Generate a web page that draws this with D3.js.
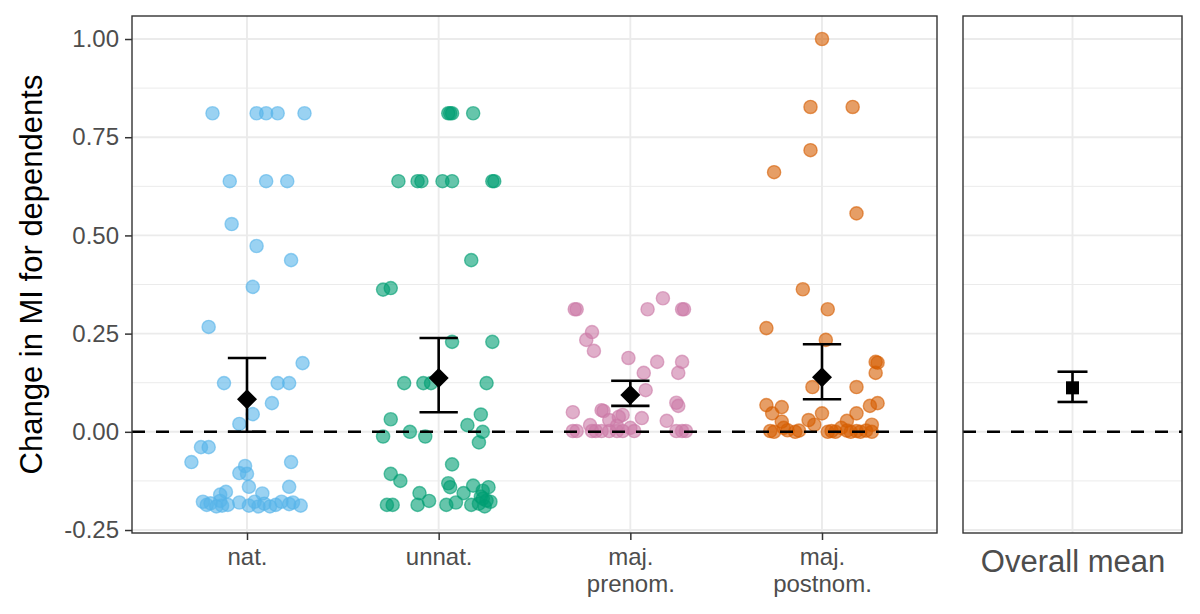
<!DOCTYPE html>
<html>
<head>
<meta charset="utf-8">
<script src="https://cdn.jsdelivr.net/npm/d3@7"></script>
<style>
  body { margin: 0; background: #fff; }
  text { font-family: "Liberation Sans", Arial, sans-serif; }
</style>
</head>
<body>
<div id="plot"></div>
<script>
// groups and colours
var categories = ["nat.", "unnat.", "maj.\nprenom.", "maj.\npostnom."];
var colors = ["#56B4E9", "#009E73", "#CC79A7", "#D55E00"];

// points: [horizontal jitter in category units, value]
var natPoints = [
    [-0.18, 0.811], [0.05, 0.811], [0.10, 0.811], [0.16, 0.811], [0.30, 0.811],
    [-0.09, 0.638], [0.10, 0.638], [0.21, 0.638],
    [-0.08, 0.529], [0.05, 0.473], [0.23, 0.437], [0.03, 0.369], [-0.20, 0.267],
    [0.29, 0.175], [-0.12, 0.124], [0.16, 0.124], [0.22, 0.124], [0.13, 0.073],
    [0.03, 0.045], [-0.04, 0.020], [-0.24, -0.039], [-0.20, -0.039],
    [-0.29, -0.077], [0.23, -0.077], [-0.01, -0.087], [-0.04, -0.105], [0.00, -0.107],
    [0.01, -0.140], [0.22, -0.140], [-0.11, -0.153], [0.08, -0.157], [-0.14, -0.160],
    [-0.23, -0.178], [-0.21, -0.186], [-0.19, -0.182], [-0.16, -0.190], [-0.14, -0.176],
    [-0.10, -0.186], [-0.04, -0.180], [0.01, -0.188], [0.04, -0.178], [0.06, -0.190],
    [0.09, -0.183], [0.15, -0.186], [0.18, -0.178], [0.22, -0.184], [0.24, -0.180],
    [0.28, -0.188], [-0.13, -0.188], [0.12, -0.190]
];
var unnatPoints = [
    [0.05, 0.811], [0.06, 0.811], [0.07, 0.811], [0.18, 0.811],
    [-0.21, 0.638], [-0.11, 0.638], [-0.09, 0.638], [0.02, 0.638], [0.07, 0.638],
    [0.28, 0.638], [0.29, 0.638],
    [0.17, 0.437], [-0.29, 0.362], [-0.25, 0.366],
    [0.07, 0.229], [0.28, 0.229],
    [-0.18, 0.124], [-0.08, 0.124], [-0.04, 0.124], [0.25, 0.124],
    [-0.25, 0.032], [0.22, 0.044], [0.15, 0.017], [-0.15, 0.000], [0.23, 0.000],
    [-0.29, -0.012], [-0.07, -0.012], [0.21, -0.027], [0.07, -0.083],
    [-0.25, -0.107], [-0.20, -0.125], [0.05, -0.131], [0.06, -0.141],
    [0.18, -0.137], [0.26, -0.141], [-0.10, -0.156], [0.13, -0.156],
    [-0.05, -0.176], [-0.11, -0.186], [-0.27, -0.186], [-0.24, -0.186],
    [0.04, -0.186], [0.09, -0.180], [0.17, -0.186],
    [0.21, -0.183], [0.22, -0.165], [0.23, -0.150], [0.25, -0.175],
    [0.27, -0.178], [0.24, -0.190], [0.23, -0.170]
];
var prenomPoints = [
    [-0.29, 0.312], [-0.28, 0.312], [0.09, 0.312], [0.17, 0.340], [0.28, 0.312], [0.27, 0.312],
    [-0.20, 0.254], [-0.23, 0.234], [-0.19, 0.206],
    [-0.01, 0.188], [0.14, 0.178], [0.27, 0.178],
    [0.07, 0.150], [0.25, 0.150], [0.08, 0.106],
    [0.24, 0.074], [0.25, 0.066],
    [-0.30, 0.050], [-0.15, 0.055], [-0.14, 0.053],
    [-0.04, 0.043], [0.06, 0.035], [0.19, 0.028], [-0.11, 0.030], [-0.06, 0.038],
    [-0.21, 0.017], [-0.07, 0.015], [0.00, 0.010],
    [-0.30, 0.002], [-0.28, 0.002], [-0.20, 0.002], [-0.18, 0.002], [-0.15, 0.002],
    [-0.11, 0.002], [-0.07, 0.002], [-0.04, 0.002], [0.02, 0.002], [0.24, 0.002],
    [0.27, 0.002], [0.29, 0.002]
];
var postnomPoints = [
    [0.00, 1.000], [-0.06, 0.827], [0.16, 0.827], [-0.06, 0.717], [-0.25, 0.661],
    [0.18, 0.556], [-0.10, 0.363], [0.03, 0.312], [-0.29, 0.264], [0.02, 0.234],
    [0.28, 0.178], [0.29, 0.176], [0.28, 0.150],
    [-0.05, 0.114], [0.18, 0.114],
    [-0.29, 0.068], [-0.21, 0.063], [0.29, 0.073], [0.25, 0.066],
    [-0.26, 0.047], [0.00, 0.047], [0.18, 0.047],
    [-0.21, 0.026], [-0.07, 0.030], [0.13, 0.028], [0.26, 0.018], [-0.04, 0.018],
    [-0.27, 0.002], [-0.25, 0.000], [-0.18, 0.004], [-0.14, 0.000], [-0.12, 0.003],
    [0.03, 0.000], [0.05, 0.002], [0.07, 0.000], [0.13, 0.003], [0.15, 0.000],
    [0.18, 0.002], [0.20, 0.000], [0.23, 0.003], [0.26, 0.000], [0.10, 0.010],
    [-0.20, 0.010]
];
var groupPoints = [natPoints, unnatPoints, prenomPoints, postnomPoints];

// group means with error bars
var means = [0.083, 0.137, 0.094, 0.139];
var ciLow = [0.000, 0.050, 0.066, 0.083];
var ciHigh = [0.188, 0.239, 0.130, 0.223];

// overall panel
var overallLabel = ["Overall mean"];
var overallMean = [0.112];
var overallLow = [0.076];
var overallHigh = [0.153];

var yTicks = [-0.25, 0, 0.25, 0.5, 0.75, 1];
var yMinor = [-0.125, 0.125, 0.375, 0.625, 0.875];
var yTitle = "Change in MI for dependents";

function drawChart(){
    var width = 1200, height = 614;
    var top = 16, bottom = 533;
    var left1 = 132, right1 = 937;
    var left2 = 963, right2 = 1182;

    var svg = d3.select("#plot").append("svg")
        .attr("width", width)
        .attr("height", height);

    var yScale = d3.scaleLinear()
        .domain([-0.2576, 1.0586])
        .range([bottom, top]);

    var xScale = d3.scalePoint()
        .domain(categories)
        .range([left1, right1])
        .padding(0.6);

    var xScale2 = d3.scalePoint()
        .domain(overallLabel)
        .range([left2, right2])
        .padding(0.6);

    // grid lines for both panels
    [[left1, right1, xScale, categories], [left2, right2, xScale2, overallLabel]].forEach(function(p){
        var g = svg.append("g");
        g.selectAll(".minor").data(yMinor).enter().append("line")
            .attr("x1", p[0]).attr("x2", p[1])
            .attr("y1", function(d){ return yScale(d); })
            .attr("y2", function(d){ return yScale(d); })
            .attr("stroke", "#ebebeb").attr("stroke-width", 1);
        g.selectAll(".major").data(yTicks).enter().append("line")
            .attr("x1", p[0]).attr("x2", p[1])
            .attr("y1", function(d){ return yScale(d); })
            .attr("y2", function(d){ return yScale(d); })
            .attr("stroke", "#ebebeb").attr("stroke-width", 1.9);
        g.selectAll(".vert").data(p[3]).enter().append("line")
            .attr("x1", function(d){ return p[2](d); })
            .attr("x2", function(d){ return p[2](d); })
            .attr("y1", top).attr("y2", bottom)
            .attr("stroke", "#ebebeb").attr("stroke-width", 1.9);
    });

    // jittered points
    var step = xScale.step();
    groupPoints.forEach(function(pts, i){
        svg.append("g").selectAll("circle")
            .data(pts).enter().append("circle")
            .attr("cx", function(d){ return xScale(categories[i]) + d[0] * step; })
            .attr("cy", function(d){ return yScale(d[1]); })
            .attr("r", 6.6)
            .style("fill", colors[i])
            .style("fill-opacity", 0.6)
            .style("stroke", colors[i])
            .style("stroke-opacity", 0.6)
            .style("stroke-width", 1.4);
    });

    // zero reference lines
    [[left1, right1], [left2, right2]].forEach(function(p){
        svg.append("line")
            .attr("x1", p[0]).attr("x2", p[1])
            .attr("y1", yScale(0)).attr("y2", yScale(0))
            .attr("stroke", "#000")
            .attr("stroke-width", 2.6)
            .attr("stroke-dasharray", "13,11");
    });

    // error bars + mean diamonds
    function errorBars(scale, labels, lo, hi, capHalf){
        var g = svg.append("g");
        g.selectAll(".stem").data(labels).enter().append("line")
            .attr("x1", function(d){ return scale(d); })
            .attr("x2", function(d){ return scale(d); })
            .attr("y1", function(d, i){ return yScale(lo[i]); })
            .attr("y2", function(d, i){ return yScale(hi[i]); })
            .attr("stroke", "#000").attr("stroke-width", 2.6);
        [lo, hi].forEach(function(arr){
            g.selectAll(null).data(labels).enter().append("line")
                .attr("x1", function(d){ return scale(d) - capHalf; })
                .attr("x2", function(d){ return scale(d) + capHalf; })
                .attr("y1", function(d, i){ return yScale(arr[i]); })
                .attr("y2", function(d, i){ return yScale(arr[i]); })
                .attr("stroke", "#000").attr("stroke-width", 2.6);
        });
    }
    errorBars(xScale, categories, ciLow, ciHigh, 0.1 * step);
    errorBars(xScale2, overallLabel, overallLow, overallHigh, 15);

    svg.append("g").selectAll("path")
        .data(categories).enter().append("path")
        .attr("d", d3.symbol().type(d3.symbolSquare).size(200))
        .attr("transform", function(d, i){
            return "translate(" + xScale(d) + "," + yScale(means[i]) + ") rotate(45)";
        })
        .style("fill", "#000");

    svg.append("g").selectAll("path")
        .data(overallLabel).enter().append("path")
        .attr("d", d3.symbol().type(d3.symbolSquare).size(170))
        .attr("transform", function(d, i){
            return "translate(" + xScale2(d) + "," + yScale(overallMean[i]) + ")";
        })
        .style("fill", "#000");

    // panel borders
    [[left1, right1], [left2, right2]].forEach(function(p){
        svg.append("rect")
            .attr("x", p[0]).attr("y", top)
            .attr("width", p[1] - p[0]).attr("height", bottom - top)
            .attr("fill", "none")
            .attr("stroke", "#333").attr("stroke-width", 1.4);
    });

    // axes
    var yAxis = d3.axisLeft().scale(yScale)
        .tickValues(yTicks)
        .tickFormat(function(d){ return d.toFixed(2); })
        .tickSize(7).tickPadding(6);
    var gy = svg.append("g").call(yAxis)
        .attr("transform", "translate(" + left1 + ",0)");
    gy.select(".domain").remove();
    gy.selectAll("line").attr("stroke", "#333").attr("stroke-width", 1.5);
    gy.selectAll("text").attr("fill", "#4d4d4d").style("font-size", "24px");

    var xAxis = d3.axisBottom().scale(xScale).tickSize(7).tickPadding(8);
    var gx = svg.append("g").call(xAxis)
        .attr("transform", "translate(0," + bottom + ")");
    gx.select(".domain").remove();
    gx.selectAll("line").attr("stroke", "#333").attr("stroke-width", 1.5);
    gx.selectAll("text").attr("fill", "#4d4d4d").style("font-size", "24px")
        .each(function(d){
            var t = d3.select(this).text("");
            d.split("\n").forEach(function(line, k){
                t.append("tspan").attr("x", 0)
                    .attr("dy", k === 0 ? "0.71em" : "1.13em")
                    .text(line);
            });
        });

    var xAxis2 = d3.axisBottom().scale(xScale2).tickSize(0).tickPadding(17);
    var gx2 = svg.append("g").call(xAxis2)
        .attr("transform", "translate(0," + bottom + ")");
    gx2.select(".domain").remove();
    gx2.selectAll("text").attr("fill", "#4d4d4d").style("font-size", "31px");

    svg.append("text")
        .attr("transform", "translate(42," + ((top + bottom) / 2) + ") rotate(-90)")
        .attr("text-anchor", "middle")
        .style("font-size", "31px")
        .attr("fill", "#000")
        .text(yTitle);
}

drawChart();
</script>
</body>
</html>
